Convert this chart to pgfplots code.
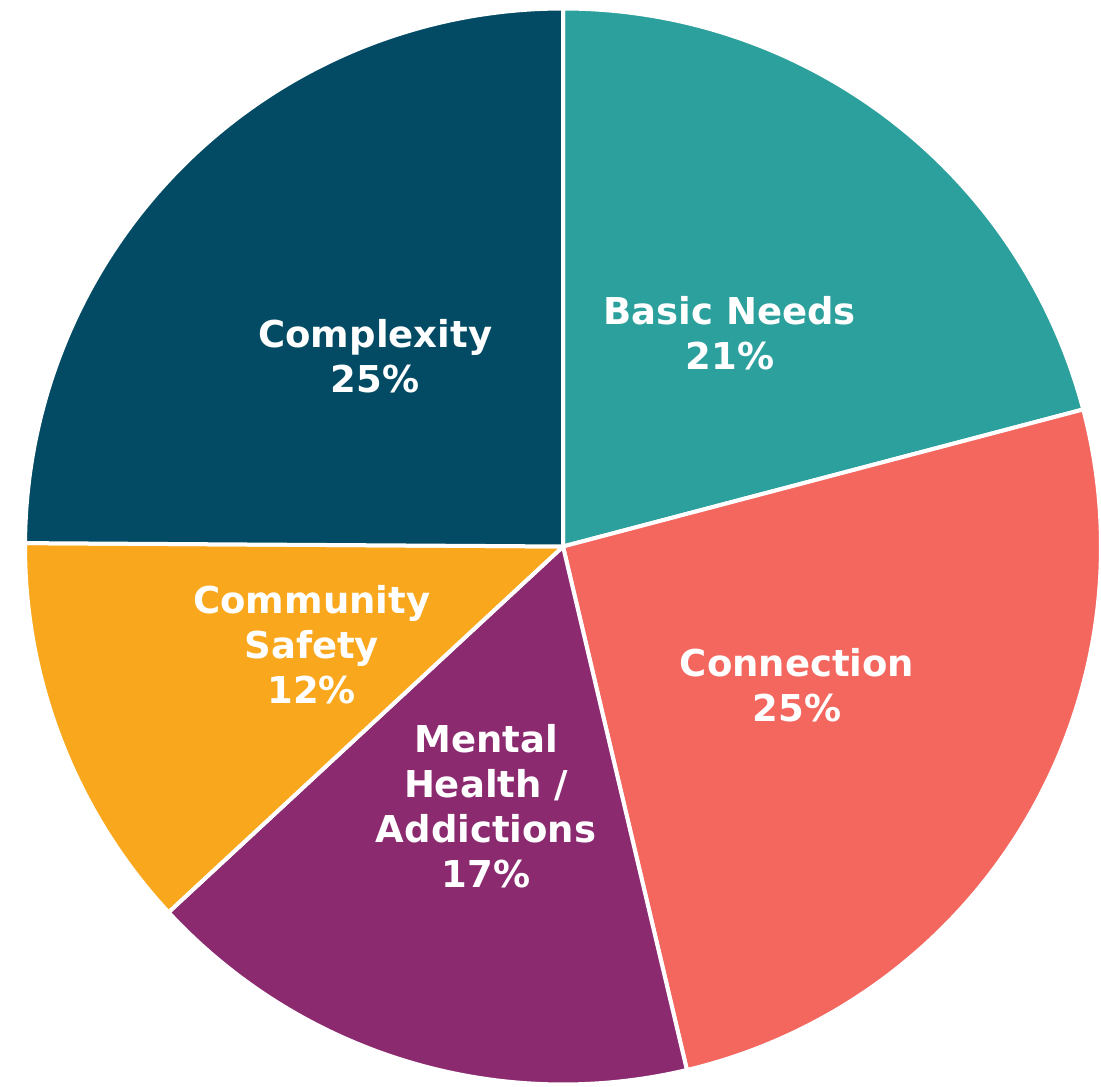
\documentclass[border=0pt]{standalone}
\usepackage{fontspec}
\setmainfont{DejaVu Sans}
\usepackage{pgfplots}
\usepackage{pgfplotstable}
\pgfplotsset{compat=1.18}
\definecolor{cBasic}{HTML}{2CA09C}
\definecolor{cConn}{HTML}{F3675F}
\definecolor{cMental}{HTML}{8C2A70}
\definecolor{cSafety}{HTML}{F9A71D}
\definecolor{cComplex}{HTML}{034B64}
\pgfplotstableread{
name value
Basic 20.9
Connection 25.4
Mental 16.8
Safety 12.0
Complexity 24.9
}\piedata
\pgfplotstablegetelem{0}{value}\of\piedata \let\vA\pgfplotsretval
\pgfplotstablegetelem{1}{value}\of\piedata \let\vB\pgfplotsretval
\pgfplotstablegetelem{2}{value}\of\piedata \let\vC\pgfplotsretval
\pgfplotstablegetelem{3}{value}\of\piedata \let\vD\pgfplotsretval
\pgfplotstablegetelem{4}{value}\of\piedata \let\vE\pgfplotsretval
\pgfmathsetmacro\aA{90}
\pgfmathsetmacro\aB{\aA-3.6*\vA}
\pgfmathsetmacro\aC{\aB-3.6*\vB}
\pgfmathsetmacro\aD{\aC-3.6*\vC}
\pgfmathsetmacro\aE{\aD-3.6*\vD}
\pgfmathsetmacro\aF{\aE-3.6*\vE}
\begin{document}
\begin{tikzpicture}
\begin{axis}[
  scale only axis,
  width=550.5pt, height=543pt,
  xmin=-1.0465, xmax=1.0, ymin=-1.0028, ymax=1.0158,
  hide axis,
  every axis plot/.append style={draw=white, line width=2pt, line join=round, samples=120, variable=\t},
]
\draw[draw=none] (rel axis cs:0,0) rectangle (rel axis cs:1,1);
\addplot[fill=cBasic, domain=\aB:\aA] ({cos(\t)},{sin(\t)}) -- (axis cs:0,0) -- cycle;
\addplot[fill=cConn, domain=\aC:\aB] ({cos(\t)},{sin(\t)}) -- (axis cs:0,0) -- cycle;
\addplot[fill=cMental, domain=\aD:\aC] ({cos(\t)},{sin(\t)}) -- (axis cs:0,0) -- cycle;
\addplot[fill=cSafety, domain=\aE:\aD] ({cos(\t)},{sin(\t)}) -- (axis cs:0,0) -- cycle;
\addplot[fill=cComplex, domain=\aF:\aE] ({cos(\t)},{sin(\t)}) -- (axis cs:0,0) -- cycle;
\tikzset{lbl/.style={text=white, align=center, font=\fontsize{18.5}{22.5}\selectfont\bfseries}}
\node[lbl] at (axis cs:0.310,0.396) {Basic Needs\\21\%};
\node[lbl] at (axis cs:-0.349,0.354) {Complexity\\25\%};
\node[lbl] at (axis cs:0.435,-0.258) {Connection\\25\%};
\node[lbl] at (axis cs:-0.467,-0.182) {Community\\Safety\\12\%};
\node[lbl] at (axis cs:-0.143,-0.482) {Mental\\Health /\\Addictions\\17\%};
\end{axis}
\end{tikzpicture}
\end{document}
